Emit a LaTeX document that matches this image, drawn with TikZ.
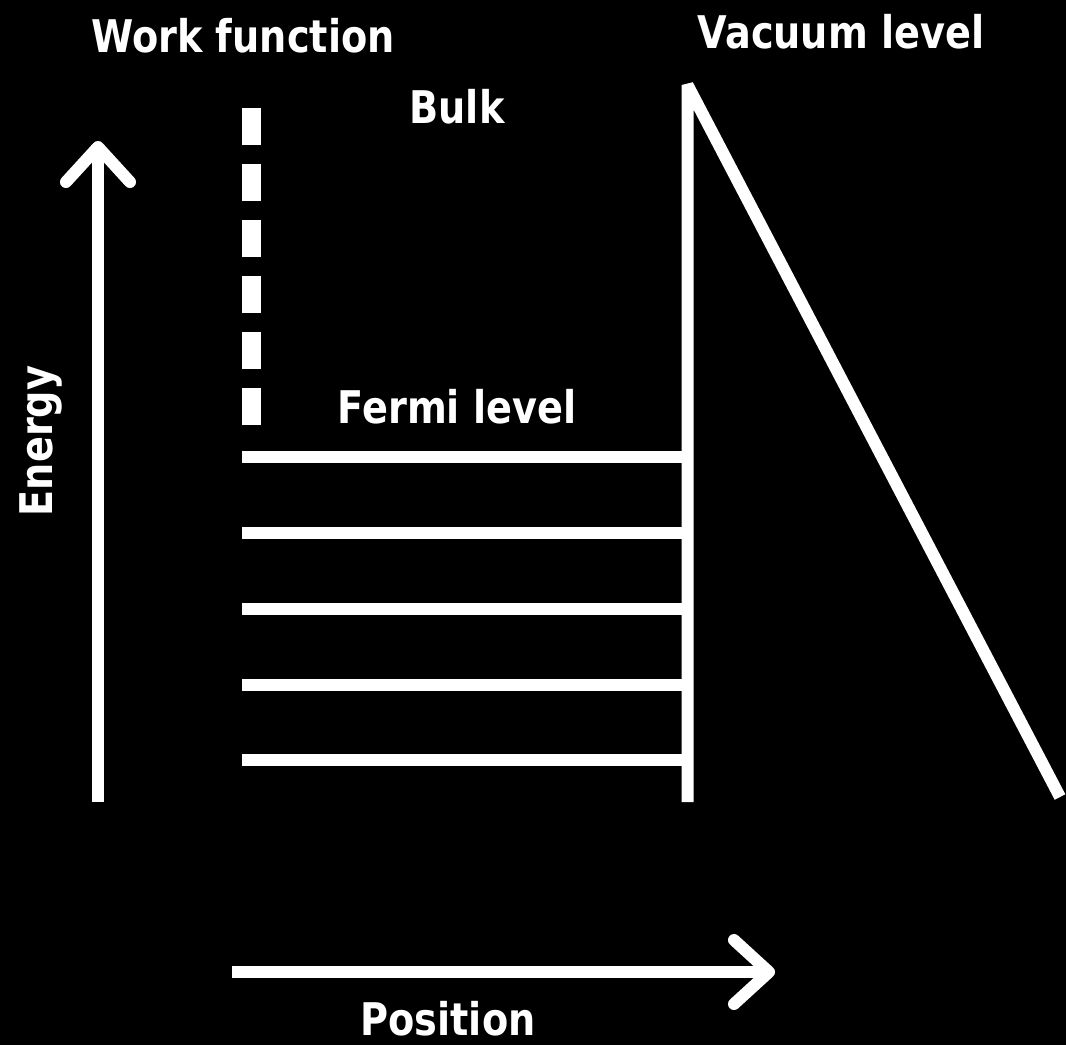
\documentclass[tikz,border=0pt]{standalone}
\usepackage{fontspec}
\setmainfont{DejaVu Sans}[FakeStretch=0.85]
\usetikzlibrary{arrows.meta}

\begin{document}
\begin{tikzpicture}[
    x=1pt, y=-1pt,
    line/.style={draw=white, line width=12pt},
    axis/.style={line, -{Straight Barb[length=35pt, width=64pt, round]}},
    wfline/.style={draw=white, line width=19pt, dash pattern=on 37pt off 19pt},
    lbl/.style={text=white, font=\bfseries\fontsize{45}{54}\selectfont, inner sep=0pt, anchor=base}
]
\fill[black] (0,0) rectangle (1066,1045);
\useasboundingbox (0,0) rectangle (1066,1045);

% axes
\coordinate (ebot) at (98,802);
\coordinate (etop) at (98,141);
\coordinate (pleft) at (232,972);
\coordinate (pright) at (775,972);
\draw[axis] (ebot) -- (etop);
\draw[axis] (pleft) -- (pright);

% work function and surface
\coordinate (wftop) at (251.5,108);
\coordinate (wfbot) at (251.5,426);
\draw[wfline] (wftop) -- (wfbot);
\coordinate (surfbot) at (687.5,802);
\coordinate (surftop) at (687.5,85);
\coordinate (vacend) at (1060,797);
\draw[line, line join=bevel] (surfbot) -- (surftop) -- (vacend);

% levels in the bulk
\foreach \i/\y in {1/457,2/533,3/609,4/685,5/760} {
    \coordinate (lvl\i) at (242,\y);
    \draw[line] (lvl\i) -- (lvl\i -| surfbot);
}

\node[lbl] (wf) at (243,52) {Work function};
\node[lbl] (vac) at (841,48) {Vacuum level};
\node[lbl] (bulk) at (457,123) {Bulk};
\node[lbl] (fermi) at (457,423) {Fermi level};
\node[lbl, rotate=90] (energy) at (52,441) {Energy};
\node[lbl] (pos) at (448,1035) {Position};

\end{tikzpicture}
\end{document}
